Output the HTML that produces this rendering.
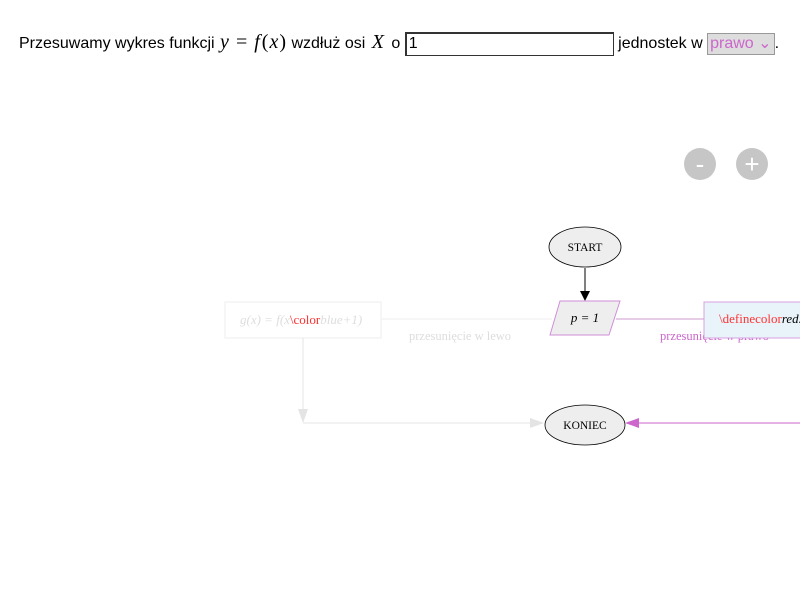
<!DOCTYPE html>
<html><head><meta charset="utf-8"><style>
body{margin:0;width:800px;height:600px;background:#fff;font-family:"Liberation Sans",sans-serif;position:relative;overflow:hidden}
.top{position:absolute;left:19px;top:31px;font-size:16px;color:#000;white-space:nowrap}
.m{font-family:"Liberation Serif",serif;font-style:italic;font-size:20px}
.r{font-family:"Liberation Serif",serif;font-size:20px}
.inp{display:inline-block;border:1px solid #333;border-width:2px 1px 1px 2px;vertical-align:middle;font-size:16px;line-height:20px;padding-left:2px;box-sizing:border-box;width:209px;height:24px}
.sel{display:inline-block;background:#ddd;border:1px solid #999;color:#c6c;font-size:16px;padding:0 2px;vertical-align:middle;height:20px;line-height:20px}
.btn{position:absolute;width:32px;height:32px;border-radius:50%;background:#c6c6c6;color:#fff;text-align:center;font-size:26px;line-height:32px;top:148px}
</style></head><body>
<div class="top">Przesuwamy wykres funkcji <span class="m" style="margin-left:1px">y</span><span class="r" style="margin:0 7px">=</span><span class="m">f</span><span class="r" style="margin-left:2px">(</span><span class="m" style="margin:0 1px">x</span><span class="r" style="margin-right:1px">)</span> wzdłuż osi <span class="m" style="margin:0 3px 0 2px">X</span> o <span class="inp">1</span> jednostek w <span class="sel">prawo ⌄</span>.</div>
<div class="btn" style="left:684px">-</div>
<div class="btn" style="left:736px">+</div>
<svg width="800" height="600" style="position:absolute;left:0;top:0" font-family="Liberation Serif,serif">
<defs>
<marker id="ab" markerWidth="10" markerHeight="10" refX="9" refY="5" orient="auto" markerUnits="userSpaceOnUse"><path d="M0,0 L10,5 L0,10z" fill="#000"/></marker>
<marker id="ao" markerWidth="14" markerHeight="10" refX="13" refY="5" orient="auto" markerUnits="userSpaceOnUse"><path d="M0,0 L14,5 L0,10z" fill="#c6c"/></marker>
<marker id="ag" markerWidth="14" markerHeight="10" refX="13" refY="5" orient="auto" markerUnits="userSpaceOnUse"><path d="M0,0 L14,5 L0,10z" fill="#e4e4e4"/></marker>
</defs>
<ellipse cx="585" cy="247" rx="36" ry="20" fill="#eee" stroke="#000" stroke-width="0.8"/>
<text x="585" y="251" font-size="11.5" text-anchor="middle">START</text>
<line x1="585" y1="268" x2="585" y2="300" stroke="#000" marker-end="url(#ab)"/>
<line x1="382" y1="319" x2="552" y2="319" stroke="#eee"/>
<line x1="616" y1="319" x2="704" y2="319" stroke="#c9c"/>
<polygon points="560,301 620,301 609,335 550,335" fill="#eee" stroke="#d08ed8"/>
<text x="585" y="322" font-size="13" text-anchor="middle" font-style="italic">p = 1</text>
<rect x="225" y="302" width="156" height="36" fill="#fff" stroke="#eee"/>
<text x="240" y="324" font-size="13" fill="#ddd" font-style="italic">g(x) = f(x<tspan fill="#f33" font-style="normal">\color</tspan>blue+1)</text>
<text x="409" y="340" font-size="12.5" fill="#ddd">przesunięcie w lewo</text>
<text x="660" y="340" font-size="12.5" fill="#c6c">przesunięcie w prawo</text>
<rect x="704" y="302" width="110" height="36" fill="#e8f4fa" stroke="#d9a0e0"/>
<text x="719" y="323" font-size="13" fill="#f33">\definecolor<tspan fill="#000" font-style="italic">red.</tspan></text>
<line x1="303" y1="338" x2="303" y2="422" stroke="#e4e4e4" marker-end="url(#ag)"/>
<line x1="303" y1="423" x2="543" y2="423" stroke="#e4e4e4" marker-end="url(#ag)"/>
<ellipse cx="585" cy="425" rx="40" ry="20" fill="#eee" stroke="#000" stroke-width="0.8"/>
<text x="585" y="429" font-size="11.5" text-anchor="middle">KONIEC</text>
<line x1="800" y1="423" x2="626" y2="423" stroke="#c6c" marker-end="url(#ao)"/>
</svg>
</body></html>
